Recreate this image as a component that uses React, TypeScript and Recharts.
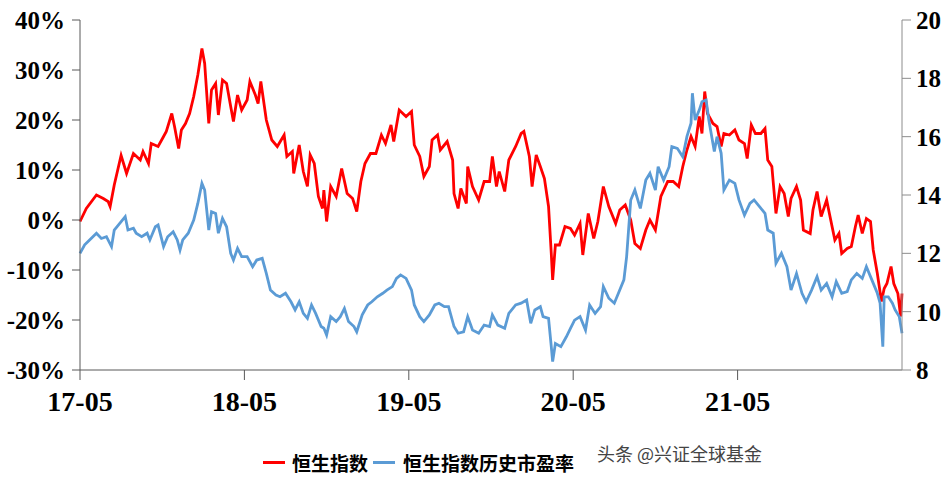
import { LineChart, Line, XAxis, YAxis } from 'recharts';

// months since 2017-05
const hsiMonths = [
  0, 0.46, 1.2, 1.7, 2.05, 2.2, 2.5, 3.0, 3.1, 3.4, 3.9, 4.4, 4.6, 5.0, 5.2, 5.7, 6.1, 6.3, 6.7, 6.9,
  7.2, 7.4, 7.7, 8.0, 8.3, 8.6, 8.9, 9.1, 9.4, 9.6, 9.9, 10.1, 10.4, 10.7, 11.0, 11.2, 11.5, 11.8,
  12.2, 12.4, 12.8, 13.0, 13.2, 13.6, 14.0, 14.4, 14.9, 15.1, 15.5, 15.6, 16.0, 16.3, 16.6, 16.8,
  17.1, 17.4, 17.7, 17.8, 18.0, 18.3, 18.7, 19.1, 19.5, 19.9, 20.2, 20.5, 20.8, 21.2, 21.6, 22.0,
  22.3, 22.7, 22.9, 23.3, 23.8, 24.2, 24.4, 24.8, 25.1, 25.5, 25.7, 26.1, 26.3, 26.8, 27.2, 27.3,
  27.6, 27.8, 28.2, 28.3, 28.65, 29.1, 29.5, 29.9, 30.1, 30.4, 30.6, 31.0, 31.3, 31.8, 32.2, 32.4,
  32.8, 33.0, 33.3, 33.6, 33.9, 34.2, 34.4, 34.5, 34.7, 35.0, 35.4, 35.8, 36.1, 36.5, 36.7, 37.1,
  37.5, 37.8, 38.2, 38.6, 39.1, 39.4, 39.8, 40.2, 40.5, 40.9, 41.3, 41.6, 42.0, 42.4, 42.9, 43.3,
  43.7, 44.0, 44.3, 44.6, 44.9, 45.2, 45.4, 45.6, 45.8, 46.2, 46.5, 46.8, 47.0, 47.4, 47.8, 48.1,
  48.5, 48.7, 49.0, 49.3, 49.7, 50.0, 50.2, 50.5, 50.8, 51.1, 51.4, 51.7, 51.9, 52.3, 52.6, 52.8,
  53.3, 53.5, 53.8, 54.1, 54.5, 54.7, 55.1, 55.4, 55.6, 56.0, 56.3, 56.6, 56.8, 57.1, 57.4, 57.7,
  57.9, 58.2, 58.5, 58.7, 58.9, 59.2, 59.4, 59.7, 59.9, 60.0,
];

// 恒生指数 cumulative change, %
const hsiValues = [
  -0.3, 2.3, 5, 4.3, 3.7, 2.7, 7, 12.9, 12, 9.3, 13.3, 12, 13.7, 11.3, 15.3, 14.7, 16.7, 17.7, 21.3, 18.7,
  14.3, 18, 19.3, 21.3, 24.7, 29, 34.3, 31.3, 19.3, 26, 27.3, 21, 28, 27.3, 22.7, 19.7, 25, 22,
  24, 27.7, 25, 23.3, 27.7, 20, 16, 14.7, 17, 12.7, 13.7, 9.3, 15, 9.7, 6.7, 13,
  11.3, 4.7, 2.3, 6, -0.3, 6.7, 4.7, 10.3, 5.3, 4.3, 1.7, 7.7, 11.3, 13.3, 13.3, 17,
  15.3, 19, 15.7, 22, 20.7, 21.7, 15, 12.7, 8.7, 10.7, 16, 17, 14, 15.7, 12, 5.3,
  2.3, 6.3, 3.3, 10.7, 6.7, 4, 7.7, 7.7, 12.7, 6.7, 9.7, 5.7, 12, 14.7, 17.3, 17.7,
  12.7, 6.7, 13, 10.7, 8.3, 2.7, -6.7, -12, -5, -5, -1.3, -1.7, -3, -0.7, -7, 1.3,
  -3.7, -0.3, 6.7, 2.7, -0.7, 2, 3, 0, -4.7, -5.7, -2, 0, -2, 4.7, 7.7, 7.7,
  6.7, 10.7, 14, 16.7, 14.7, 20.7, 17.3, 25.7, 21.3, 19.3, 18.7, 14.7, 17.3, 17, 18, 16,
  15.3, 12.3, 19, 17.3, 17.3, 18.3, 12, 10.7, 1.3, 6.7, 5.3, 0.7, 4.3, 6.7, 4, -2,
  -2.7, 2, 5.7, 0.7, 4, 1.3, -4, -2.7, -6.7, -5.7, -5.3, -1.3, 1, -2.7, 0.3, -0.3,
  -6, -10.7, -16.3, -13.7, -12.7, -9.3, -12.7, -14.7, -19.3, -14.7,
];

const peMonths = [
  0, 0.34, 0.7, 1.2, 1.56, 1.93, 2.3, 2.5, 2.9, 3.3, 3.5, 3.9, 4.1, 4.5, 4.9, 5.1, 5.5, 5.7, 6.1, 6.4,
  6.8, 7.1, 7.3, 7.5, 7.9, 8.3, 8.6, 8.9, 9.1, 9.4, 9.6, 9.9, 10.1, 10.4, 10.7, 11.0, 11.2, 11.5,
  11.8, 12.2, 12.6, 12.9, 13.3, 13.6, 13.9, 14.3, 14.6, 15.0, 15.4, 15.7, 16.0, 16.3, 16.6, 16.9,
  17.2, 17.6, 17.8, 18.0, 18.3, 18.7, 19.0, 19.3, 19.6, 20.0, 20.2, 20.6, 21.0, 21.3, 21.7, 22.1,
  22.4, 22.8, 23.1, 23.4, 23.8, 24.2, 24.4, 24.8, 25.1, 25.5, 25.9, 26.2, 26.6, 26.9, 27.3, 27.6,
  28.0, 28.3, 28.65, 29.1, 29.5, 29.9, 30.1, 30.5, 31.0, 31.3, 31.8, 32.2, 32.6, 32.9, 33.2, 33.6,
  33.8, 34.2, 34.4, 34.5, 34.7, 35.1, 35.5, 35.8, 36.1, 36.5, 36.9, 37.2, 37.6, 38.0, 38.2, 38.6,
  39.0, 39.3, 39.7, 39.9, 40.2, 40.5, 40.9, 41.3, 41.6, 42.0, 42.2, 42.6, 43.0, 43.2, 43.6, 44.0,
  44.3, 44.6, 44.7, 44.9, 45.2, 45.4, 45.7, 45.9, 46.3, 46.5, 46.8, 47.0, 47.4, 47.8, 48.1, 48.5,
  48.9, 49.2, 49.6, 50.0, 50.2, 50.6, 50.8, 51.2, 51.6, 51.9, 52.3, 52.7, 53.0, 53.4, 53.8, 54.1,
  54.5, 54.9, 55.2, 55.6, 56.0, 56.3, 56.7, 57.1, 57.4, 57.8, 58.2, 58.4, 58.6, 58.7, 59.0, 59.3,
  59.5, 59.8, 60.0,
];

// 恒生指数历史市盈率
const peValues = [
  12.0, 12.29, 12.46, 12.69, 12.51, 12.57, 12.23, 12.8, 13.03, 13.26, 12.8, 12.86, 12.69, 12.57, 12.69, 12.46, 12.91, 12.97, 12.23, 12.57,
  12.74, 12.46, 12.11, 12.46, 12.69, 13.14, 13.71, 14.4, 14.17, 12.8, 13.43, 13.37, 12.69, 13.2, 12.91, 12.0, 11.77, 12.17,
  11.89, 11.89, 11.54, 11.77, 11.83, 11.31, 10.74, 10.57, 10.51, 10.63, 10.34, 10.06, 10.34, 9.94, 9.77, 10.23,
  9.94, 9.49, 9.43, 9.2, 9.83, 9.66, 9.83, 10.11, 9.66, 9.49, 9.31, 9.89, 10.23, 10.34, 10.51, 10.63,
  10.74, 10.86, 11.14, 11.26, 11.14, 10.74, 10.23, 9.83, 9.66, 9.89, 10.23, 10.29, 10.17, 10.17, 9.49, 9.26,
  9.31, 9.83, 9.37, 9.26, 9.54, 9.49, 9.89, 9.54, 9.43, 9.94, 10.23, 10.29, 10.4, 9.6, 10.06, 10.17,
  9.83, 9.77, 8.8, 8.29, 8.91, 8.8, 9.14, 9.43, 9.71, 9.83, 9.37, 10.23, 9.94, 10.17, 10.86, 10.46,
  10.29, 10.63, 11.09, 11.89, 13.83, 14.17, 13.54, 14.51, 14.74, 14.17, 14.97, 14.51, 14.97, 15.66, 15.6, 15.31,
  16.0, 16.46, 17.49, 16.57, 16.91, 17.2, 17.26, 16.57, 15.49, 16.0, 15.43, 14.17, 14.51, 14.4, 13.83, 13.31,
  13.71, 13.83, 13.6, 13.37, 12.8, 12.69, 11.66, 12.0, 11.54, 10.74, 11.31, 10.63, 10.34, 10.74, 11.2, 10.74,
  10.97, 10.51, 11.03, 10.63, 10.69, 11.09, 11.31, 11.14, 11.54, 11.09, 10.63, 10.29, 8.8, 10.51, 10.51, 10.29,
  10.06, 9.83, 9.26,
];

const xTicks = [0, 12, 24, 36, 48];
const xTickLabels = ['17-05', '18-05', '19-05', '20-05', '21-05'];
const leftTicks = [-30, -20, -10, 0, 10, 20, 30, 40];
const rightTicks = [8, 10, 12, 14, 16, 18, 20];

const rows: { m: number; hsi?: number; pe?: number }[] = [];
hsiMonths.forEach((m, i) => rows.push({ m, hsi: hsiValues[i] }));
peMonths.forEach((m, i) => rows.push({ m, pe: peValues[i] }));
rows.sort((a, b) => a.m - b.m);

const tickFont = {
  fontFamily: '"Liberation Serif", "Times New Roman", serif',
  fontWeight: 700,
  fontSize: 25,
  fill: '#000',
};

export default function App() {
  return (
    <div style={{ position: 'absolute', left: 0, top: 0, width: 948, height: 478, background: '#fff' }}>
      <LineChart width={948} height={478} data={rows} margin={{ top: 20, right: 0, bottom: 0, left: 0 }}>
        <XAxis
          dataKey="m"
          type="number"
          domain={[0, 60]}
          ticks={xTicks}
          tickFormatter={(v: number) => xTickLabels[xTicks.indexOf(v)] ?? ''}
          height={108}
          tickSize={10}
          tickMargin={11}
          stroke="#595959"
          tick={{ ...tickFont, fontSize: 28 }}
        />
        <YAxis
          yAxisId="left"
          domain={[-30, 40]}
          ticks={leftTicks}
          tickFormatter={(v: number) => `${v}%`}
          width={80}
          tickSize={8}
          tickMargin={7}
          stroke="#595959"
          tick={tickFont}
        />
        <YAxis
          yAxisId="right"
          orientation="right"
          domain={[8, 20]}
          ticks={rightTicks}
          width={46}
          tickSize={9}
          tickMargin={5}
          stroke="#8c8c8c"
          tick={tickFont}
        />
        <Line
          yAxisId="left"
          dataKey="hsi"
          stroke="#ff0000"
          strokeWidth={2.8}
          dot={false}
          connectNulls
          isAnimationActive={false}
        />
        <Line
          yAxisId="right"
          dataKey="pe"
          stroke="#5b9bd5"
          strokeWidth={2.8}
          dot={false}
          connectNulls
          isAnimationActive={false}
        />
      </LineChart>
      <div
        style={{
          position: 'absolute',
          top: 449,
          left: 263,
          display: 'flex',
          alignItems: 'center',
          fontFamily: '"Noto Sans CJK SC", sans-serif',
          fontWeight: 700,
          fontSize: 19,
          color: '#000',
          whiteSpace: 'nowrap',
        }}
      >
        <span style={{ width: 22, height: 3, background: '#ff0000', marginRight: 7 }} />
        <span>恒生指数</span>
        <span style={{ width: 22, height: 3, background: '#5b9bd5', marginLeft: 5, marginRight: 8 }} />
        <span>恒生指数历史市盈率</span>
      </div>
      <div
        style={{
          position: 'absolute',
          top: 440,
          left: 597,
          fontFamily: '"Noto Sans CJK SC", sans-serif',
          fontSize: 18,
          color: '#444',
          whiteSpace: 'nowrap',
        }}
      >
        头条 @兴证全球基金
      </div>
    </div>
  );
}
